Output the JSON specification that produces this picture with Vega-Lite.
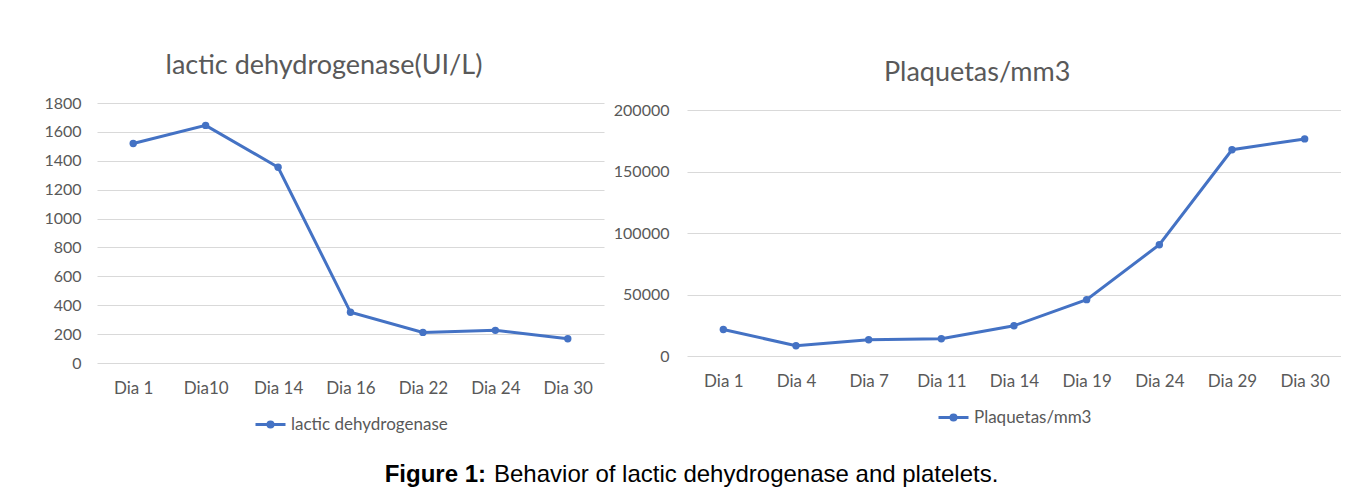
{
  "$schema": "https://vega.github.io/schema/vega-lite/v6.json",
  "background": "white",
  "padding": {"left": 43, "top": 52, "right": 0, "bottom": 0},
  "datasets": {
    "ldh": [
      {"dia": "Dia 1", "valor": 1520, "serie": "lactic dehydrogenase"},
      {"dia": "Dia10", "valor": 1645, "serie": "lactic dehydrogenase"},
      {"dia": "Dia 14", "valor": 1355, "serie": "lactic dehydrogenase"},
      {"dia": "Dia 16", "valor": 351, "serie": "lactic dehydrogenase"},
      {"dia": "Dia 22", "valor": 212, "serie": "lactic dehydrogenase"},
      {"dia": "Dia 24", "valor": 226, "serie": "lactic dehydrogenase"},
      {"dia": "Dia 30", "valor": 168, "serie": "lactic dehydrogenase"}
    ],
    "plq": [
      {"dia": "Dia 1", "valor": 21500, "serie": "Plaquetas/mm3"},
      {"dia": "Dia 4", "valor": 8400, "serie": "Plaquetas/mm3"},
      {"dia": "Dia 7", "valor": 13200, "serie": "Plaquetas/mm3"},
      {"dia": "Dia 11", "valor": 14000, "serie": "Plaquetas/mm3"},
      {"dia": "Dia 14", "valor": 24600, "serie": "Plaquetas/mm3"},
      {"dia": "Dia 19", "valor": 45800, "serie": "Plaquetas/mm3"},
      {"dia": "Dia 24", "valor": 90500, "serie": "Plaquetas/mm3"},
      {"dia": "Dia 29", "valor": 167700, "serie": "Plaquetas/mm3"},
      {"dia": "Dia 30", "valor": 176500, "serie": "Plaquetas/mm3"}
    ],
    "caption": [
      {"bold": "Figure 1:", "normal": "Behavior of lactic dehydrogenase and platelets."}
    ]
  },
  "vconcat": [
    {
      "hconcat": [
        {
          "data": {"name": "ldh"},
          "width": 507,
          "height": 260,
          "title": {"text": "lactic dehydrogenase(UI/L)", "frame": "bounds", "anchor": "middle", "offset": 15},
          "mark": {"type": "line", "strokeWidth": 3, "point": {"filled": true, "size": 55}},
          "encoding": {
            "x": {"field": "dia", "type": "nominal", "sort": null, "scale": {"type": "point", "padding": 0.5},
                  "axis": {"title": null, "labelAngle": 0, "labelPadding": 17}},
            "y": {"field": "valor", "type": "quantitative", "scale": {"domain": [0, 1800], "nice": false},
                  "axis": {"title": null, "values": [0, 200, 400, 600, 800, 1000, 1200, 1400, 1600, 1800], "labelPadding": 16, "labelFontSize": 16, "format": "d"}},
            "color": {"field": "serie", "type": "nominal", "scale": {"range": ["#4472C4"]},
                      "legend": {"title": null, "orient": "bottom"}}
          }
        },
        {
          "data": {"name": "plq"},
          "width": 654,
          "height": 246,
          "title": {"text": "Plaquetas/mm3", "frame": "bounds", "anchor": "middle", "offset": 15},
          "mark": {"type": "line", "strokeWidth": 3, "point": {"filled": true, "size": 55}},
          "encoding": {
            "x": {"field": "dia", "type": "nominal", "sort": null, "scale": {"type": "point", "padding": 0.5},
                  "axis": {"title": null, "labelAngle": 0, "labelPadding": 17}},
            "y": {"field": "valor", "type": "quantitative", "scale": {"domain": [0, 200000], "nice": false},
                  "axis": {"title": null, "values": [0, 50000, 100000, 150000, 200000], "labelPadding": 18, "labelFontSize": 16, "format": "d"}},
            "color": {"field": "serie", "type": "nominal", "scale": {"range": ["#4472C4"]},
                      "legend": {"title": null, "orient": "bottom"}}
          }
        }
      ],
      "spacing": 9,
      "center": true,
      "resolve": {"scale": {"color": "independent"}}
    },
    {
      "data": {"name": "caption"},
      "width": 786,
      "height": 30,
      "layer": [
        {"mark": {"type": "text", "align": "right", "baseline": "middle", "font": "Liberation Sans", "fontSize": 24, "fontWeight": "bold", "color": "black", "dx": -4},
         "encoding": {"text": {"field": "bold"}}},
        {"mark": {"type": "text", "align": "left", "baseline": "middle", "font": "Liberation Sans", "fontSize": 24, "color": "black", "dx": 4},
         "encoding": {"text": {"field": "normal"}}}
      ]
    }
  ],
  "spacing": 26,
  "config": {
    "view": {"stroke": null},
    "font": "Lato",
    "title": {"font": "Lato", "fontSize": 27, "fontWeight": "normal", "color": "#595959"},
    "axis": {"labelFont": "Lato", "labelFontSize": 17, "labelColor": "#595959", "domain": false, "ticks": false, "tickSize": 0, "gridColor": "#d9d9d9", "gridWidth": 1},
    "axisX": {"grid": false},
    "legend": {"labelFont": "Lato", "labelFontSize": 17, "labelColor": "#595959",
               "symbolType": "M-1,0L1,0M-0.17,0A0.17,0.17,0,1,1,0.17,0A0.17,0.17,0,1,1,-0.17,0",
               "symbolSize": 900, "symbolStrokeWidth": 3, "symbolStrokeColor": "#4472C4", "symbolFillColor": "#4472C4", "labelOffset": 4, "offset": 12,
               "layout": {"anchor": "middle", "bounds": "full", "bottom": {"anchor": "middle", "bounds": "full"}}}
  }
}
